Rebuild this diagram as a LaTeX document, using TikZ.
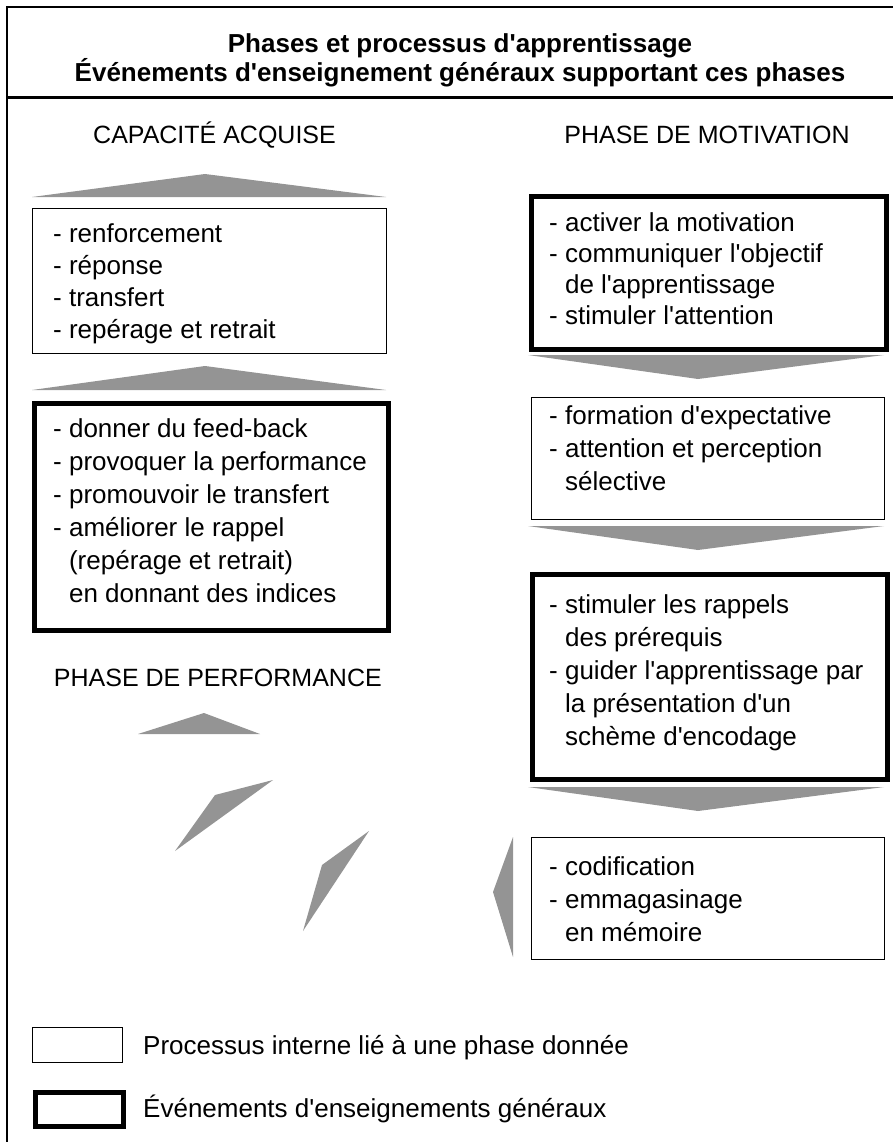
\documentclass[tikz,border=0pt]{standalone}
\usepackage{fontspec}
\setmainfont{Liberation Sans}
\definecolor{arrowgray}{RGB}{148,148,148}
\newcommand{\ml}[2]{\fontsize{26}{#1}\selectfont\begin{tabular}[t]{@{}l@{}}#2\end{tabular}}
\newcommand{\ind}{\hphantom{- }}
\newcommand{\ap}{\XeTeXglyph\XeTeXcharglyph"0027\relax}
\begin{document}
\begin{tikzpicture}[x=1pt,y=-1pt,
  procbox/.style={draw, line width=1.2pt, inner sep=0pt, anchor=north west},
  eventbox/.style={draw, line width=5pt, inner sep=0pt, anchor=north west},
  boxtext/.style={inner sep=0pt, anchor=base west},
  phaselabel/.style={inner sep=0pt, font=\fontsize{25}{30}\selectfont},
  titletext/.style={inner sep=0pt, anchor=base, font=\fontsize{26}{30}\selectfont\bfseries},
  legtext/.style={inner sep=0pt, anchor=base west, font=\fontsize{26}{30}\selectfont},
  chev/.style={fill=arrowgray}]
\useasboundingbox (0,0) rectangle (893,1142);

% frame
\draw[line width=1.2pt] (7,1142) -- (7,7) -- (893,7);
\draw[line width=3pt] (7,98) -- (893,98);

% title
\node[titletext] (title1) at (460,53) {Phases et processus d\ap apprentissage};
\node[titletext] (title2) at (460,82) {Événements d\ap enseignement généraux supportant ces phases};

% phase labels
\node[phaselabel, anchor=base west] (capa) at (93,144) {CAPACITÉ ACQUISE};
\node[phaselabel, anchor=base] (motiv) at (707,144) {PHASE DE MOTIVATION};
\node[phaselabel, anchor=base east] (perf) at (382,686) {PHASE DE PERFORMANCE};

% left column
\node[procbox, minimum width=354pt, minimum height=145pt] (l1) at (32,208) {};
\node[boxtext] (l1t) at (53,242) {\ml{32}{- renforcement\\- réponse\\- transfert\\- repérage et retrait}};
\node[eventbox, minimum width=354pt, minimum height=227pt] (l2) at (32,401) {};
\node[boxtext] (l2t) at (53,437) {\ml{33}{- donner du feed-back\\- provoquer la performance\\- promouvoir le transfert\\- améliorer le rappel\\\ind(repérage et retrait)\\\ind en donnant des indices}};

% right column
\node[eventbox, minimum width=355pt, minimum height=153pt] (r1) at (529,194) {};
\node[boxtext] (r1t) at (549,231) {\ml{31}{- activer la motivation\\- communiquer l\ap objectif\\\ind de l\ap apprentissage\\- stimuler l\ap attention}};
\node[procbox, minimum width=353pt, minimum height=122pt] (r2) at (531,397) {};
\node[boxtext] (r2t) at (549,424) {\ml{33}{- formation d\ap expectative\\- attention et perception\\\ind sélective}};
\node[eventbox, minimum width=355pt, minimum height=205pt] (r3) at (530,572) {};
\node[boxtext] (r3t) at (549,613) {\ml{33}{- stimuler les rappels\\\ind des prérequis\\- guider l\ap apprentissage par\\\ind la présentation d\ap un\\\ind schème d\ap encodage}};
\node[procbox, minimum width=353pt, minimum height=122pt] (r4) at (531,837) {};
\node[boxtext] (r4t) at (549,875) {\ml{33}{- codification\\- emmagasinage\\\ind en mémoire}};

% chevron arrows, left column (up)
\fill[chev] (32,197) -- (205,174) -- (386,197) -- cycle;
\fill[chev] (32,390) -- (205,366) -- (386,390) -- cycle;
% right column (down)
\fill[chev] (528,355) -- (884,355) -- (698,379) -- cycle;
\fill[chev] (528,526) -- (884,526) -- (698,550) -- cycle;
\fill[chev] (528,787) -- (884,787) -- (698,811) -- cycle;
% performance loop
\fill[chev] (138,734) -- (204,713) -- (260,734) -- cycle;
\fill[chev] (273,780) -- (215,795) -- (175,851) -- cycle;
\fill[chev] (369,831) -- (322,865) -- (303,931) -- cycle;
\fill[chev] (513,837) -- (493,892) -- (513,957) -- cycle;

% legend
\node[procbox, minimum width=90pt, minimum height=35pt] (leg1) at (32,1027) {};
\node[legtext] (leg1t) at (143,1054) {Processus interne lié à une phase donnée};
\node[eventbox, minimum width=88pt, minimum height=34pt] (leg2) at (33,1090) {};
\node[legtext] (leg2t) at (143,1117) {Événements d\ap enseignements généraux};
\end{tikzpicture}
\end{document}
